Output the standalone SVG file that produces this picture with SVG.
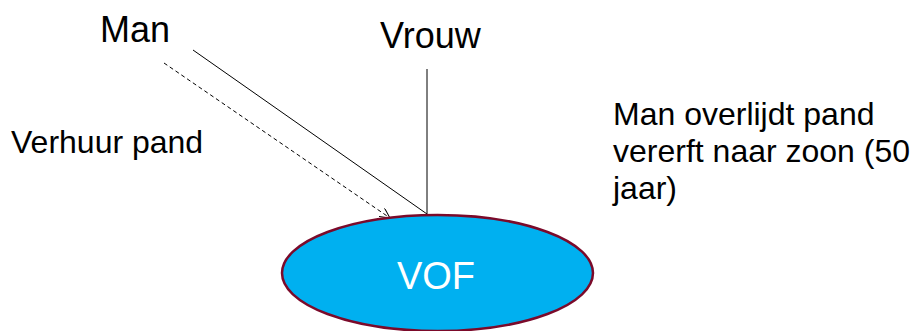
<svg xmlns="http://www.w3.org/2000/svg" width="915" height="331" viewBox="0 0 915 331">
<style>
text{font-family:"Liberation Sans",Arial,sans-serif;fill:#000}
.big{font-size:36px}
.sm{font-size:32px}
.ln{stroke:#000;stroke-width:1;fill:none}
</style>
<defs>
<marker id="ah" viewBox="0 0 10 10" refX="10" refY="5" markerWidth="10" markerHeight="10" markerUnits="userSpaceOnUse" orient="auto">
<path d="M0,0 L10,5 L0,10" fill="none" stroke="#000" stroke-width="1"/>
</marker>
</defs>
<rect width="915" height="331" fill="#fff"/>
<g id="connectors">
<line class="ln" x1="193" y1="50" x2="427" y2="214"/>
<line class="ln" x1="427" y1="69" x2="427" y2="214"/>
<line class="ln" x1="164" y1="63" x2="390" y2="218" stroke-dasharray="4,3" marker-end="url(#ah)"/>
</g>
<g id="man"><text class="big" x="100" y="42">Man</text></g>
<g id="vrouw"><text class="big" x="380" y="48">Vrouw</text></g>
<g id="verhuur"><text class="sm" x="11" y="153">Verhuur pand</text></g>
<g id="note"><text class="sm" x="613" y="125">Man overlijdt pand</text><text class="sm" x="613" y="162">vererft naar zoon (50</text><text class="sm" x="613" y="199">jaar)</text></g>
<g id="vof">
<ellipse cx="437.5" cy="273" rx="155.5" ry="58" fill="#00b0f0" stroke="#7b0a2a" stroke-width="2.5"/>
<text x="436" y="289" font-size="38" text-anchor="middle" style="fill:#fff">VOF</text>
</g>
</svg>
